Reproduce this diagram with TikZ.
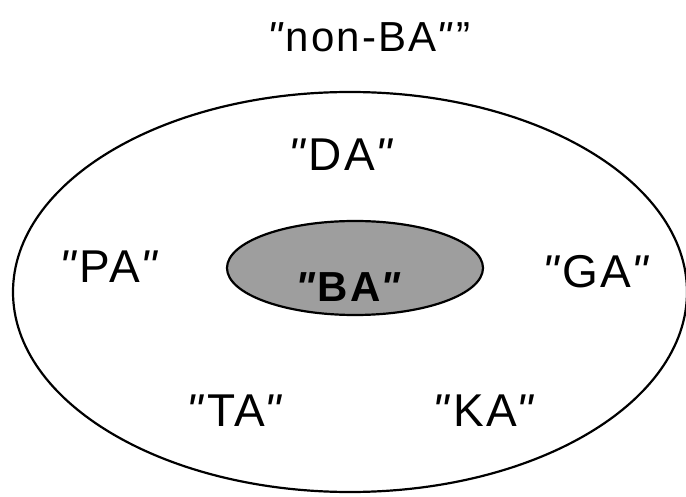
\documentclass[tikz,border=0pt]{standalone}
\usepackage{fontspec}
\setmainfont{Liberation Sans}
\newfontfamily\lblfont[LetterSpace=5]{Liberation Sans}
% slanted double quote mark
\newcommand{\dq}{\textit{"}}
\begin{document}
\begin{tikzpicture}[x=1pt,y=-1pt,
  lbl/.style={font=\lblfont\fontsize{46}{46}\selectfont, inner sep=0pt},
  toplbl/.style={font=\lblfont\fontsize{42}{42}\selectfont, inner sep=0pt},
  corelbl/.style={font=\lblfont\bfseries\fontsize{42}{42}\selectfont, inner sep=0pt},
  ring/.style={draw=black, line width=2.2pt}]
\useasboundingbox (0,0) rectangle (686,497);
% outer region
\draw[ring] (350,292) ellipse [x radius=337, y radius=200];
% inner shaded region
\draw[ring, fill=black!38] (355,268) ellipse [x radius=128, y radius=47];
% labels
\node[toplbl] (nonba) at (369,37) {\dq non-BA\dq\kern2pt”};
\node[lbl] (da) at (342,155) {\dq DA\dq};
\node[lbl] (pa) at (110,267) {\dq PA\dq};
\node[corelbl] (ba) at (349,287) {\dq BA\dq};
\node[lbl] (ga) at (597,272) {\dq GA\dq};
\node[lbl] (ta) at (236,411) {\dq TA\dq};
\node[lbl] (ka) at (485,411) {\dq KA\dq};
\end{tikzpicture}
\end{document}
